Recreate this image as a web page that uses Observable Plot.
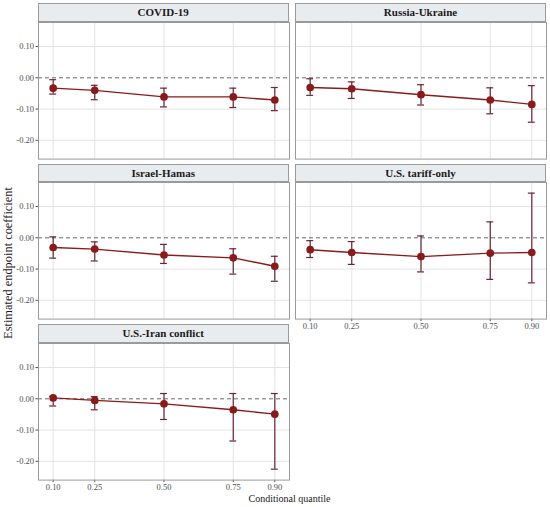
<!DOCTYPE html>
<html>
<head>
<meta charset="utf-8">
<script src="https://cdn.jsdelivr.net/npm/d3@7"></script>
<script src="https://cdn.jsdelivr.net/npm/@observablehq/plot@0.6"></script>
<style>
  html, body { margin: 0; padding: 0; background: #fff; }
  #chart { position: relative; width: 550px; height: 507px; font-family: "Liberation Serif", "Times New Roman", serif; overflow: hidden; }
  .strip { position: absolute; box-sizing: border-box; background: #e9ecef; border: 1px solid #9a9a9a; font-weight: bold; font-size: 11px; color: #1a1a1a; text-align: center; line-height: 17px; font-family: "Liberation Serif", serif; }
  .panel { position: absolute; }
  .ytitle { position: absolute; font-size: 12.4px; color: #1a1a1a; white-space: nowrap; transform: translate(-50%, -50%) rotate(-90deg); font-family: "Liberation Serif", serif; }
  .xtitle { position: absolute; font-size: 10px; color: #1a1a1a; white-space: nowrap; transform: translate(-50%, -50%); font-family: "Liberation Serif", serif; }
</style>
</head>
<body>
<div id="chart"></div>
<script>
// ---- Data ----
const quantiles = [0.10, 0.25, 0.50, 0.75, 0.90];
const panelNames = ["COVID-19", "Russia-Ukraine", "Israel-Hamas", "U.S. tariff-only", "U.S.-Iran conflict"];

const covidEst  = [-0.033, -0.040, -0.061, -0.061, -0.071];
const covidLow  = [-0.052, -0.070, -0.093, -0.095, -0.105];
const covidHigh = [-0.006, -0.024, -0.033, -0.033, -0.031];

const russiaEst  = [-0.031, -0.035, -0.054, -0.071, -0.085];
const russiaLow  = [-0.056, -0.066, -0.087, -0.115, -0.142];
const russiaHigh = [-0.003, -0.013, -0.022, -0.032, -0.025];

const israelEst  = [-0.031, -0.036, -0.055, -0.064, -0.091];
const israelLow  = [-0.065, -0.074, -0.082, -0.116, -0.139];
const israelHigh = [ 0.003, -0.013, -0.021, -0.035, -0.059];

const tariffEst  = [-0.038, -0.047, -0.060, -0.049, -0.047];
const tariffLow  = [-0.063, -0.085, -0.109, -0.133, -0.144];
const tariffHigh = [-0.009, -0.012,  0.006,  0.051,  0.143];

const iranEst  = [ 0.003, -0.005, -0.016, -0.035, -0.049];
const iranLow  = [-0.023, -0.035, -0.066, -0.135, -0.225];
const iranHigh = [ 0.008,  0.007,  0.017,  0.017,  0.017];

const yTicks = [-0.20, -0.10, 0.00, 0.10];
const xTickLabels = ["0.10", "0.25", "0.50", "0.75", "0.90"];
const xTitle = "Conditional quantile";
const yTitle = "Estimated endpoint coefficient";

const series = [
  {name: panelNames[0], est: covidEst,  low: covidLow,  high: covidHigh,  col: 0, row: 0, showY: true,  showX: false},
  {name: panelNames[1], est: russiaEst, low: russiaLow, high: russiaHigh, col: 1, row: 0, showY: false, showX: false},
  {name: panelNames[2], est: israelEst, low: israelLow, high: israelHigh, col: 0, row: 1, showY: true,  showX: false},
  {name: panelNames[3], est: tariffEst, low: tariffLow, high: tariffHigh, col: 1, row: 1, showY: false, showX: true},
  {name: panelNames[4], est: iranEst,   low: iranLow,   high: iranHigh,   col: 0, row: 2, showY: true,  showX: true}
];

// ---- Layout ----
const colLeft = [37.7, 295];
const panelW = 251;
const rowTop = [3.3, 164.0, 324.3];   // strip tops
const stripH = 18.4;
const plotH = 136.6;
const mL = 40, mR = 2, mT = 1, mB = 22;
const capHalf = 0.0125;

const chart = document.getElementById("chart");

for (const s of series) {
  const data = quantiles.map((q, i) => ({q, est: s.est[i], low: s.low[i], high: s.high[i]}));
  const left = colLeft[s.col];
  const top = rowTop[s.row];

  const strip = document.createElement("div");
  strip.className = "strip";
  strip.style.left = left + "px";
  strip.style.top = top + "px";
  strip.style.width = panelW + "px";
  strip.style.height = stripH + "px";
  strip.textContent = s.name;

  const plot = Plot.plot({
    width: mL + panelW + mR,
    height: mT + plotH + mB,
    marginLeft: mL, marginRight: mR, marginTop: mT, marginBottom: mB,
    style: {background: "transparent", fontFamily: "'Liberation Serif', serif", fontSize: "8.5px", color: "#4d4d4d", overflow: "visible"},
    x: {domain: [0.047, 0.953], ticks: quantiles, tickFormat: d => xTickLabels[quantiles.indexOf(d)], label: null,
        axis: s.showX ? "bottom" : null, tickSize: 2.5, tickPadding: 1.5},
    y: {domain: [-0.26, 0.177], ticks: yTicks, tickFormat: d => d.toFixed(2), label: null,
        axis: s.showY ? "left" : null, tickSize: 2.5, tickPadding: 2},
    marks: [
      Plot.gridX(quantiles, {stroke: "#e3e3e3", strokeOpacity: 1, strokeWidth: 1}),
      Plot.gridY(yTicks.filter(d => d !== 0), {stroke: "#e3e3e3", strokeOpacity: 1, strokeWidth: 1}),
      Plot.ruleY([0], {stroke: "#666", strokeDasharray: "4,3", strokeWidth: 1}),
      Plot.ruleX(data, {x: "q", y1: "low", y2: "high", stroke: "#6b2336", strokeWidth: 1.2}),
      Plot.ruleY(data, {y: "low", x1: d => d.q - capHalf, x2: d => d.q + capHalf, stroke: "#6b2336", strokeWidth: 1.2}),
      Plot.ruleY(data, {y: "high", x1: d => d.q - capHalf, x2: d => d.q + capHalf, stroke: "#6b2336", strokeWidth: 1.2}),
      Plot.line(data, {x: "q", y: "est", stroke: "#8b1a1a", strokeWidth: 1.4}),
      Plot.dot(data, {x: "q", y: "est", r: 3.1, fill: "#8b1a1a", stroke: "#8b1a1a"}),
      Plot.frame({stroke: "#9a9a9a", strokeWidth: 1})
    ]
  });
  plot.classList.add("panel");
  plot.style.left = (left - mL) + "px";
  plot.style.top = (top + stripH - mT) + "px";
  chart.appendChild(plot);
  chart.appendChild(strip);
}

const yt = document.createElement("div");
yt.className = "ytitle";
yt.style.left = "8px";
yt.style.top = "263px";
yt.textContent = yTitle;
chart.appendChild(yt);

const xt = document.createElement("div");
xt.className = "xtitle";
xt.style.left = "289.5px";
xt.style.top = "498px";
xt.textContent = xTitle;
chart.appendChild(xt);
</script>
</body>
</html>
